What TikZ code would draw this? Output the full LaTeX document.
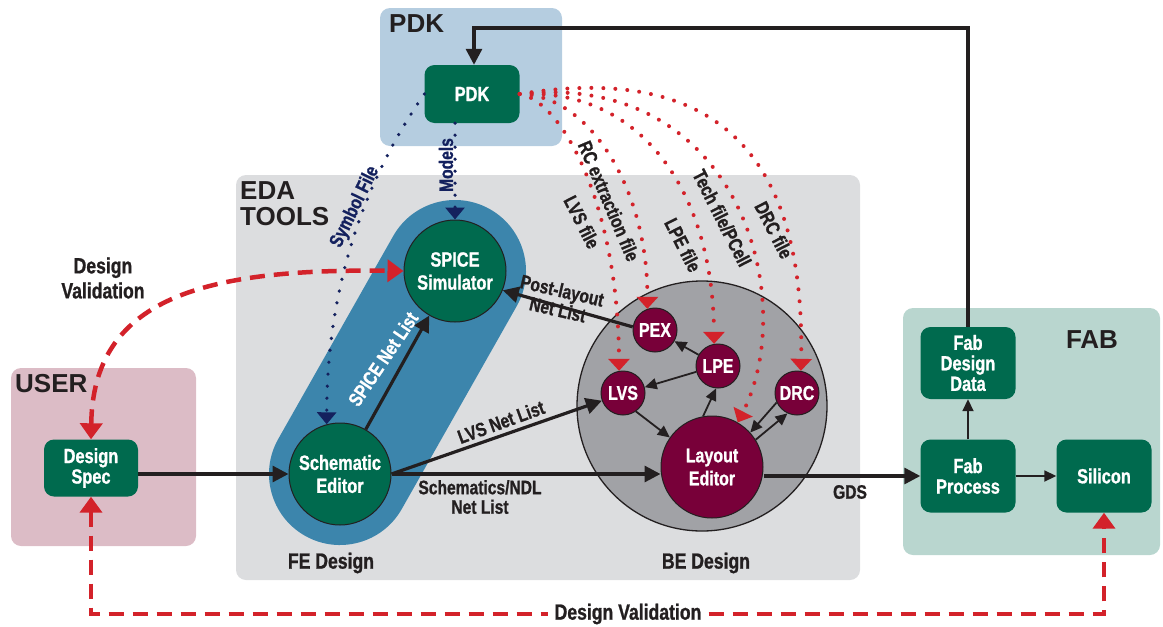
\documentclass[tikz,border=0pt]{standalone}
\usepackage{fontspec}
\setmainfont{Liberation Sans}
\newfontfamily\condfont{Liberation Sans}[FakeStretch=0.8,FakeBold=1]
\usepackage{xcolor}
\usepackage{tikz}
\usetikzlibrary{arrows.meta,positioning}

\definecolor{pdkbg}{HTML}{B5CDE0}
\definecolor{edabg}{HTML}{DCDDDF}
\definecolor{userbg}{HTML}{DCBCC6}
\definecolor{fabbg}{HTML}{B9D6CF}
\definecolor{boxgreen}{HTML}{006A4E}
\definecolor{capblue}{HTML}{3C85AC}
\definecolor{bemaroon}{HTML}{780039}
\definecolor{begray}{HTML}{A1A2A6}
\definecolor{valred}{HTML}{D3222A}
\definecolor{filenavy}{HTML}{14215E}
\definecolor{inkdark}{HTML}{231F20}

\begin{document}
\begin{tikzpicture}[x=1pt,y=-1pt,
    greenbox/.style={fill=boxgreen, rounded corners=10pt, text=white, align=center,
        font=\condfont\bfseries\fontsize{20.5}{20.5}\selectfont,
        minimum width=95pt, minimum height=58pt, inner sep=2pt},
    greencirc/.style={circle, draw=inkdark, line width=1pt, fill=boxgreen, text=white, align=center,
        font=\condfont\bfseries\fontsize{20.5}{23}\selectfont, minimum size=102pt, inner sep=0pt},
    becirc/.style={circle, draw=inkdark, line width=1pt, fill=bemaroon, text=white, align=center,
        font=\condfont\bfseries\fontsize{20}{23}\selectfont, minimum size=44pt, inner sep=0pt},
    region/.style={font=\bfseries\fontsize{26}{26}\selectfont, text=inkdark, align=left, inner sep=0pt},
    lbl/.style={font=\condfont\bfseries\fontsize{19.5}{19.5}\selectfont, text=inkdark, align=center, inner sep=0pt},
    biglbl/.style={lbl, font=\condfont\bfseries\fontsize{22}{25}\selectfont},
    thickarrow/.style={draw=inkdark, line width=3.2pt, -{Triangle[length=16pt,width=16pt]}},
    thinarrow/.style={draw=inkdark, line width=1.8pt, -{Triangle[length=12pt,width=11pt]}},
    reddash/.style={draw=valred, line width=4.5pt, dash pattern=on 15pt off 9pt,
        {Triangle[length=16pt,width=22pt]}-{Triangle[length=16pt,width=22pt]}},
    reddots/.style={draw=valred, line width=4pt, line cap=round, dash pattern=on 0pt off 12pt,
        -{Triangle[length=12pt,width=21pt]}},
    navydots/.style={draw=filenavy, line width=3.6pt, line cap=round, dash pattern=on 0pt off 12pt,
        -{Triangle[length=12pt,width=19pt]}}
]
    \useasboundingbox (0,0) rectangle (1163,627);

    % Regions
    \fill[pdkbg, rounded corners=10pt] (380,8) rectangle (562,146);
    \fill[edabg, rounded corners=10pt] (236,175) rectangle (860,580);
    \fill[userbg, rounded corners=10pt] (11,368) rectangle (196,546);
    \fill[fabbg, rounded corners=10pt] (903,308) rectangle (1160,555);
    \node[region, anchor=north west] (pdkhead) at (389,14) {PDK};
    \node[region, anchor=north west] (edahead) at (240,181) {EDA\\TOOLS};
    \node[region, anchor=north west] (userhead) at (15,374) {USER};
    \node[region] (fabhead) at (1092,340) {FAB};

    % FE capsule and BE circle
    \coordinate (schpos) at (340,474);
    \coordinate (spicepos) at (455,271);
    \draw[capblue, line width=142pt, line cap=round] (schpos) -- (spicepos);
    \node[circle, draw=inkdark, line width=1.3pt, fill=begray, minimum size=250pt] (becircle) at (702,406) {};

    % Nodes
    \node[greenbox] (pdk) at (472,94) {PDK};
    \node[greenbox, minimum width=94pt, minimum height=57pt] (dspec) at (91,468) {Design\\Spec};
    \node[greenbox, minimum height=72pt] (fabdd) at (968,363) {Fab\\Design\\Data};
    \node[greenbox, minimum height=73pt] (fabproc) at (968,476) {Fab\\Process};
    \node[greenbox, minimum height=73pt] (silicon) at (1104,476) {Silicon};
    \node[greencirc] (sch) at (schpos) {Schematic\\Editor};
    \node[greencirc] (spice) at (spicepos) {SPICE\\Simulator};
    \node[becirc, minimum size=102pt] (layout) at (712,467) {Layout\\Editor};
    \node[becirc] (pex) at (655,330) {PEX};
    \node[becirc] (lpe) at (718,366) {LPE};
    \node[becirc] (lvs) at (623,393) {LVS};
    \node[becirc] (drc) at (797,393) {DRC};

    % Main flow
    \draw[thickarrow] (dspec.east |- sch) -- (sch.west);
    \draw[thickarrow] (sch.60) -- (spice.-120);
    \draw[thickarrow] (sch.east) -- (lvs.200);
    \draw[thickarrow] (sch.east) -- (layout.west |- sch.east);
    \draw[thickarrow] (pex.172) -- (spice.-22);
    \draw[thickarrow] (layout.east |- fabproc) -- (fabproc.west);
    \coordinate (pdktop) at (474,28);
    \draw[thickarrow] (fabdd.north) |- (pdktop) -- (pdktop |- pdk.north);

    % BE loop
    \draw[thinarrow] (lpe.150) -- (pex.-30);
    \draw[thinarrow] (lpe.195) -- (lvs.15);
    \draw[thinarrow] (layout.100) -- (lpe.-95);
    \draw[thinarrow] (lvs.-55) -- (layout.145);
    \draw[thinarrow] (drc.205) -- (layout.42);
    \draw[thinarrow] (layout.32) -- (drc.245);
    \draw[thinarrow] (fabproc.north) -- (fabdd.south);
    \draw[thinarrow] (fabproc.east) -- (silicon.west);

    % Flow labels
    \node[lbl, text=white, rotate=56] (spicenl) at (383,359) {SPICE Net List};
    \node[lbl, rotate=20] (lvsnl) at (501,422) {LVS Net List};
    \node[lbl] (ndlnl) at (480,497) {Schematics/NDL\\Net List};
    \node[lbl, rotate=-13] (postnl) at (560,300) {Post-layout\\Net List};
    \node[lbl] (gds) at (850,492) {GDS};
    \node[biglbl] (fedes) at (331,563) {FE Design};
    \node[biglbl] (bedes) at (706,563) {BE Design};

    % PDK files
    \draw[navydots] (spice.north |- pdk.south) -- (spice.north);
    \draw[navydots] (pdk.west) .. controls (375,165) and (327,270) .. (sch.105);
    \node[lbl, text=filenavy, rotate=90] (models) at (446,165) {Models};
    \node[lbl, text=filenavy, rotate=64] (symfile) at (355,207) {Symbol File};
    \draw[reddots] (pdk.east) .. controls (560,100) and (618,200) .. (lvs.100);
    \draw[reddots] (pdk.east) .. controls (590,95) and (648,190) .. (pex.110);
    \draw[reddots] (pdk.east) .. controls (640,88) and (713,190) .. (lpe.100);
    \draw[reddots] (pdk.east) .. controls (740,70) and (800,300) .. (layout.60);
    \draw[reddots] (pdk.east) .. controls (730,60) and (805,170) .. (drc.80);
    \node[lbl, rotate=-63] (lvsfile) at (582,222) {LVS file};
    \node[lbl, rotate=-67] (rcfile) at (609,201) {RC extraction file};
    \node[lbl, rotate=-63] (lpefile) at (683,245) {LPE file};
    \node[lbl, rotate=-63] (techfile) at (722,218) {Tech file/PCell};
    \node[lbl, rotate=-63] (drcfile) at (774,230) {DRC file};

    % Design validation
    \draw[reddash] (dspec.north) .. controls (93,300) and (200,268) .. (spice.west);
    \node[biglbl] (topval) at (103,278) {Design\\Validation};
    \coordinate (valbase) at (628,614);
    \draw[reddash] (dspec.south) -- (dspec.south |- valbase) -| (silicon.south);
    \node[biglbl, fill=white, inner xsep=7pt, inner ysep=2pt] (botval) at (valbase) {Design Validation};
\end{tikzpicture}
\end{document}
